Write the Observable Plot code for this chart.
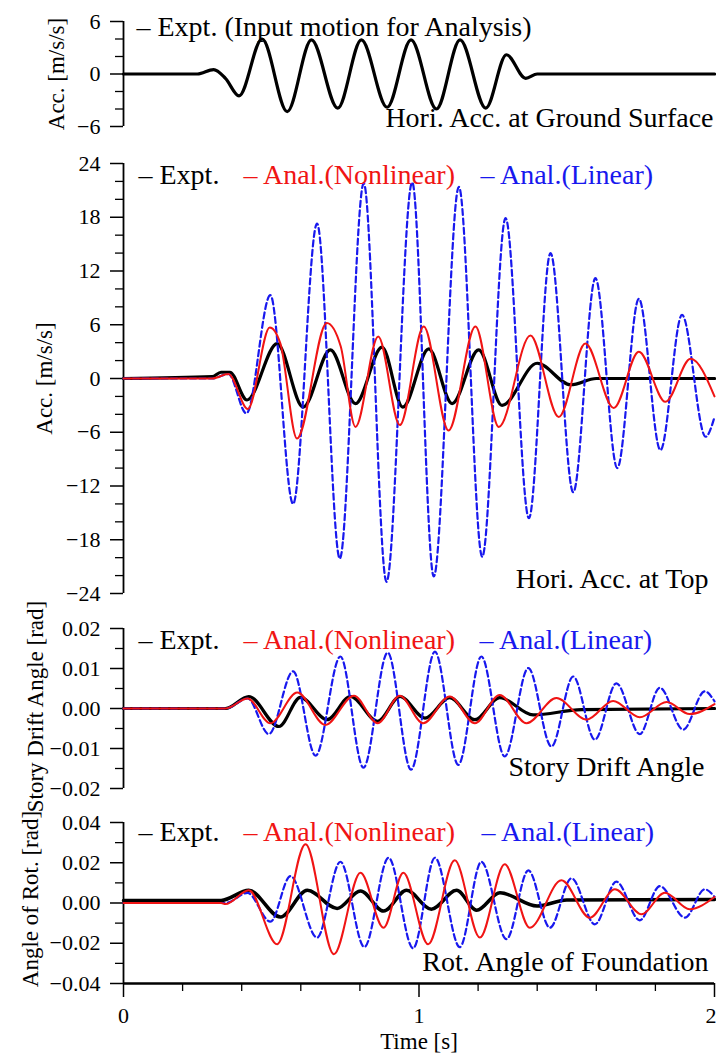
<!DOCTYPE html>
<html>
<head>
<meta charset="utf-8">
<script src="https://cdn.jsdelivr.net/npm/d3@7"></script>
<script src="https://cdn.jsdelivr.net/npm/@observablehq/plot@0.6"></script>
<style>
  html, body { margin: 0; padding: 0; background: #fff; }
  #chart { position: relative; width: 716px; height: 1053px; overflow: hidden; background: #fff; }
  #chart svg { position: absolute; left: 0; }
</style>
</head>
<body>
<div id="chart"></div>
<script>
// ---------- Panel 1: Hori. Acc. at Ground Surface (m/s/s) ----------
const groundT   = [0, 0.25, 0.305, 0.345, 0.391, 0.469, 0.554, 0.636, 0.725, 0.805, 0.892, 0.973, 1.059, 1.139, 1.226, 1.296, 1.361, 1.40, 1.6, 2.0];
const groundAcc = [0, 0, 0.5, -0.5, -2.5, 4.0, -4.3, 3.9, -3.9, 3.9, -3.8, 3.9, -4.0, 3.9, -3.9, 2.2, -0.5, 0, 0, 0];

// ---------- Panel 2: Hori. Acc. at Top (m/s/s) ----------
const topExptT = [0, 0.30, 0.33, 0.36, 0.418, 0.52, 0.608, 0.70, 0.785, 0.875, 0.945, 1.033, 1.112, 1.202, 1.281, 1.40, 1.513, 1.60, 2.0];
const topExpt  = [0, 0.2, 0.7, 0.7, -2.4, 3.9, -3.2, 3.2, -2.8, 3.5, -3.2, 3.3, -2.8, 3.2, -3.0, 1.7, -0.7, 0, 0];
const topNonT  = [0, 0.30, 0.355, 0.421, 0.495, 0.531, 0.587, 0.688, 0.735, 0.785, 0.862, 0.935, 1.016, 1.10, 1.191, 1.27, 1.377, 1.473, 1.563, 1.659, 1.744, 1.834, 1.919, 2.0];
const topNon   = [0, 0, 0.5, -3.4, 5.7, 3.9, -6.7, 6.2, 3.6, -5.4, 4.7, -5.2, 5.8, -5.8, 5.8, -5.4, 4.8, -4.3, 3.9, -3.3, 3.0, -2.6, 2.2, -2.0];
const topLinT  = [0, 0.30, 0.355, 0.416, 0.497, 0.574, 0.655, 0.732, 0.813, 0.89, 0.977, 1.05, 1.135, 1.214, 1.293, 1.372, 1.445, 1.522, 1.597, 1.671, 1.744, 1.817, 1.89, 1.97, 2.0];
const topLin   = [0, 0, 0.5, -3.9, 9.3, -14.0, 17.3, -20.1, 21.8, -22.7, 21.9, -22.1, 21.4, -19.9, 17.9, -15.6, 14.0, -12.7, 11.2, -10.0, 8.9, -8.0, 7.1, -6.5, -4.3];

// ---------- Panel 3: Story Drift Angle (rad) ----------
const driftExptT = [0, 0.345, 0.424, 0.526, 0.599, 0.689, 0.768, 0.860, 0.936, 1.02, 1.104, 1.189, 1.273, 1.386, 1.55, 2.0];
const driftExpt  = [0, 0, 0.003, -0.0045, 0.0028, -0.0028, 0.003, -0.0032, 0.003, -0.0024, 0.0027, -0.0028, 0.0027, -0.0016, -0.0003, 0];
const driftNonT  = [0, 0.345, 0.42, 0.497, 0.588, 0.683, 0.78, 0.86, 0.935, 1.014, 1.104, 1.189, 1.273, 1.364, 1.465, 1.567, 1.657, 1.747, 1.838, 1.916, 2.0];
const driftNon   = [0, 0, 0.0025, -0.0037, 0.004, -0.0041, 0.0032, -0.0037, 0.0032, -0.0037, 0.003, -0.0037, 0.0034, -0.0037, 0.0026, -0.0028, 0.0019, -0.0022, 0.0016, -0.0014, 0.0011];
const driftLinT  = [0, 0.345, 0.42, 0.492, 0.574, 0.65, 0.734, 0.812, 0.894, 0.973, 1.054, 1.133, 1.211, 1.29, 1.37, 1.448, 1.522, 1.595, 1.668, 1.747, 1.815, 1.894, 1.967, 2.0];
const driftLin   = [0, 0, 0.0025, -0.0064, 0.0093, -0.0118, 0.013, -0.0148, 0.014, -0.0153, 0.0142, -0.0141, 0.013, -0.012, 0.0101, -0.0095, 0.008, -0.0078, 0.0063, -0.0064, 0.0052, -0.0053, 0.0043, 0.0018];

// ---------- Panel 4: Rot. Angle of Foundation (rad) ----------
const rotExptT = [0, 0.33, 0.424, 0.531, 0.622, 0.723, 0.802, 0.88, 0.958, 1.042, 1.127, 1.195, 1.274, 1.40, 1.5, 2.0];
const rotExpt  = [0.0013, 0.0013, 0.0063, -0.007, 0.0063, -0.0027, 0.006, -0.004, 0.0063, -0.0031, 0.0063, -0.0036, 0.0051, -0.0015, 0.0015, 0.0018];
const rotNonT  = [0, 0.33, 0.345, 0.424, 0.52, 0.616, 0.712, 0.802, 0.88, 0.947, 1.031, 1.121, 1.206, 1.29, 1.375, 1.482, 1.578, 1.663, 1.753, 1.832, 1.916, 2.0];
const rotNon   = [0, 0, -0.0005, 0.0063, -0.0205, 0.0292, -0.0255, 0.015, -0.0123, 0.015, -0.0205, 0.0212, -0.0172, 0.0192, -0.0123, 0.0113, -0.0073, 0.0068, -0.0056, 0.0051, -0.0031, 0.003];
const rotLinT  = [0, 0.345, 0.42, 0.497, 0.565, 0.655, 0.734, 0.815, 0.897, 0.98, 1.054, 1.138, 1.211, 1.296, 1.37, 1.443, 1.516, 1.595, 1.668, 1.747, 1.815, 1.9, 1.967, 2.0];
const rotLin   = [0, 0, 0.005, -0.0093, 0.0134, -0.0172, 0.0205, -0.0219, 0.0225, -0.0225, 0.0225, -0.0219, 0.0205, -0.018, 0.0162, -0.0123, 0.0123, -0.0106, 0.0106, -0.0086, 0.0084, -0.0073, 0.0068, 0.003];

// ---------- Ticks and labels ----------
const acc1Major = [-6, 0, 6];
const acc1Minor = [-4, -2, 2, 4];
const acc2Major = [-24, -18, -12, -6, 0, 6, 12, 18, 24];
const acc2Minor = [-22, -20, -16, -14, -10, -8, -4, -2, 2, 4, 8, 10, 14, 16, 20, 22];
const driftMajor = [-0.02, -0.01, 0, 0.01, 0.02];
const driftMinor = [-0.015, -0.005, 0.005, 0.015];
const rotMajor = [-0.04, -0.02, 0, 0.02, 0.04];
const rotMinor = [-0.03, -0.01, 0.01, 0.03];
const timeMajor = [0, 1, 2];
const timeMinor = [0.2, 0.4, 0.6, 0.8, 1.2, 1.4, 1.6, 1.8];

const legendExptInput = "– Expt. (Input motion for Analysis)";
const legendLabels = ["– Expt.", "– Anal.(Nonlinear)", "– Anal.(Linear)"];
const panelTitles = ["Hori. Acc. at Ground Surface", "Hori. Acc. at Top", "Story Drift Angle", "Rot. Angle of Foundation"];
const yLabels = ["Acc. [m/s/s]", "Acc. [m/s/s]", "Story Drift Angle [rad]", "Angle of Rot. [rad]"];
const xLabel = "Time [s]";

// ---------- Rendering ----------
const FONT = "'Liberation Serif', 'Times New Roman', Times, serif";
const BLACK = "#000000", RED = "#f01414", BLUE = "#1818ee";

function rows(t, v) { return t.map((x, i) => ({t: x, v: v[i]})); }

function makePanel(cfg) {
  const marks = [
    Plot.ruleX([0], {stroke: BLACK, strokeWidth: 1.8}),
    Plot.axisY({ticks: cfg.minor, tickSize: 8, tickFormat: () => "", strokeWidth: 1.3, label: null}),
    Plot.axisY({ticks: cfg.major, tickSize: 13, tickPadding: 10, tickFormat: cfg.fmt, fontSize: 22, strokeWidth: 1.5, label: null})
  ];
  if (cfg.xaxis) {
    const inner = timeMajor.slice(0, -1);
    const last = timeMajor.slice(-1);
    marks.push(
      Plot.ruleY([cfg.domain[0]], {stroke: BLACK, strokeWidth: 2.4}),
      Plot.axisX({ticks: timeMinor, tickSize: 8, tickFormat: () => "", strokeWidth: 1.3, label: null}),
      Plot.axisX({ticks: timeMajor, tickSize: 14, tickFormat: () => "", strokeWidth: 1.5, label: null}),
      Plot.text(inner, {x: d => d, text: d => String(d), frameAnchor: "bottom", lineAnchor: "top", dy: 24, fontSize: 22, fill: BLACK}),
      Plot.text(last, {x: d => d, text: d => String(d), frameAnchor: "bottom", lineAnchor: "top", textAnchor: "end", dx: 2, dy: 24, fontSize: 22, fill: BLACK}),
      Plot.text([xLabel], {text: d => d, frameAnchor: "bottom", lineAnchor: "top", dy: 49, fontSize: 23, fill: BLACK})
    );
  }
  for (const s of cfg.lines) {
    marks.push(Plot.line(rows(s.t, s.v), {
      x: "t", y: "v", stroke: s.color, strokeWidth: s.width,
      strokeDasharray: s.dash, curve: "monotone-x"
    }));
  }
  cfg.legend.forEach((lg) => {
    marks.push(Plot.text([lg.label], {
      text: d => d, frameAnchor: "top-left", textAnchor: "start", lineAnchor: "bottom",
      dx: lg.dx, dy: cfg.legendDy, fontSize: 28, fill: lg.color
    }));
  });
  marks.push(Plot.text([cfg.title], {
    text: d => d, frameAnchor: "bottom-right", textAnchor: "end", lineAnchor: "bottom",
    dx: cfg.titleDx, dy: cfg.titleDy, fontSize: 28, fill: BLACK
  }));
  marks.push(Plot.text([cfg.ylabel], {
    text: d => d, frameAnchor: "left", textAnchor: "middle", lineAnchor: "middle", rotate: -90,
    dx: cfg.ylabelDx, dy: cfg.ylabelDy || 0, fontSize: 23, fill: BLACK
  }));

  const svg = Plot.plot({
    width: 716,
    height: cfg.height,
    marginLeft: 123,
    marginRight: 2,
    marginTop: cfg.marginTop,
    marginBottom: cfg.marginBottom,
    style: {fontFamily: FONT, background: "transparent", overflow: "visible"},
    x: {domain: [0, 2], axis: cfg.xaxis ? undefined : null},
    y: {domain: cfg.domain},
    marks
  });
  svg.style.top = cfg.top + "px";
  svg.style.position = "absolute";
  svg.style.maxWidth = "none";
  return svg;
}

const fmt2 = d3.format(".2f");
const chart = document.getElementById("chart");

const panels = [
  {
    top: 0, height: 136, marginTop: 21, marginBottom: 10, domain: [-6, 6],
    major: acc1Major, minor: acc1Minor, fmt: undefined,
    lines: [{t: groundT, v: groundAcc, color: BLACK, width: 3.2}],
    legend: [{label: legendExptInput, color: BLACK, dx: 13}], legendDy: 14,
    title: panelTitles[0], titleDx: -1, titleDy: 0,
    ylabel: yLabels[0], ylabelDx: -67
  },
  {
    top: 136, height: 465, marginTop: 27, marginBottom: 8, domain: [-24, 24],
    major: acc2Major, minor: acc2Minor, fmt: undefined,
    lines: [
      {t: topExptT, v: topExpt, color: BLACK, width: 3.2},
      {t: topLinT, v: topLin, color: BLUE, width: 2.2, dash: "6,3.5"},
      {t: topNonT, v: topNon, color: RED, width: 2}
    ],
    legend: [
      {label: legendLabels[0], color: BLACK, dx: 15},
      {label: legendLabels[1], color: RED, dx: 120},
      {label: legendLabels[2], color: BLUE, dx: 357}
    ], legendDy: 20,
    title: panelTitles[1], titleDx: -6, titleDy: -6,
    ylabel: yLabels[1], ylabelDx: -79
  },
  {
    top: 601, height: 195, marginTop: 27, marginBottom: 8, domain: [-0.02, 0.02],
    major: driftMajor, minor: driftMinor, fmt: fmt2,
    lines: [
      {t: driftExptT, v: driftExpt, color: BLACK, width: 3.2},
      {t: driftLinT, v: driftLin, color: BLUE, width: 2.2, dash: "6,3.5"},
      {t: driftNonT, v: driftNon, color: RED, width: 2}
    ],
    legend: [
      {label: legendLabels[0], color: BLACK, dx: 15},
      {label: legendLabels[1], color: RED, dx: 120},
      {label: legendLabels[2], color: BLUE, dx: 356}
    ], legendDy: 20,
    title: panelTitles[2], titleDx: -10, titleDy: -13,
    ylabel: yLabels[2], ylabelDx: -88, ylabelDy: -2
  },
  {
    top: 796, height: 257, marginTop: 26, marginBottom: 70, domain: [-0.04, 0.04],
    major: rotMajor, minor: rotMinor, fmt: fmt2, xaxis: true,
    lines: [
      {t: rotExptT, v: rotExpt, color: BLACK, width: 3.5},
      {t: rotLinT, v: rotLin, color: BLUE, width: 2.2, dash: "6,3.5"},
      {t: rotNonT, v: rotNon, color: RED, width: 2}
    ],
    legend: [
      {label: legendLabels[0], color: BLACK, dx: 15},
      {label: legendLabels[1], color: RED, dx: 120},
      {label: legendLabels[2], color: BLUE, dx: 358}
    ], legendDy: 18,
    title: panelTitles[3], titleDx: -6, titleDy: -13,
    ylabel: yLabels[3], ylabelDx: -93, ylabelDy: -4
  }
];

for (const p of panels) chart.appendChild(makePanel(p));
</script>
</body>
</html>
